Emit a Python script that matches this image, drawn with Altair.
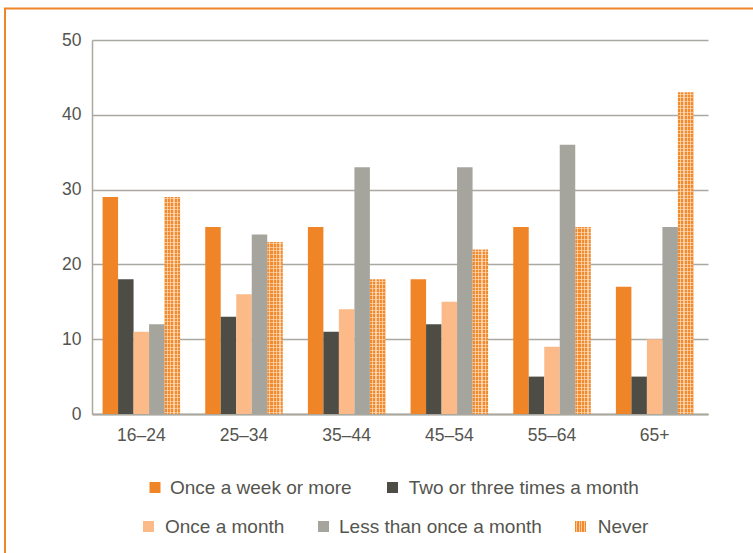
import altair as alt
import pandas as pd

ages = ["16–24", "25–34", "35–44", "45–54", "55–64", "65+"]
series = ["Once a week or more", "Two or three times a month", "Once a month",
          "Less than once a month", "Never"]
weekly = [29, 25, 25, 18, 25, 17]
two_three = [18, 13, 11, 12, 5, 5]
monthly = [11, 16, 14, 15, 9, 10]
less = [12, 24, 33, 33, 36, 25]
never = [29, 23, 18, 22, 25, 43]
colors = ["#F08528", "#4E4D45", "#FBBA87", "#A6A59D", "#F08528"]

values = [weekly, two_three, monthly, less, never]
rows = []
for s, vals in zip(series, values):
    for a, v in zip(ages, vals):
        rows.append({"age": a, "series": s, "value": v})
df = pd.DataFrame(rows)

W, H = 616, 374
TEXT = "#55554f"
GRID = "#aaa9a1"
FONT = "Liberation Sans"

# vertical stripe pattern for "Never"
vstops = [{"offset": 0, "color": "#F28A2E"}]
for c in [0.17, 0.39, 0.61, 0.83]:
    vstops += [{"offset": c - 0.04, "color": "#F28A2E"},
               {"offset": c - 0.04, "color": "#FAC89A"},
               {"offset": c + 0.04, "color": "#FAC89A"},
               {"offset": c + 0.04, "color": "#F28A2E"}]
vstops.append({"offset": 1, "color": "#F28A2E"})
vgrad = alt.Gradient(gradient="linear", stops=vstops, x1=0, x2=1, y1=0, y2=0)

xenc = alt.X("age:N", sort=ages, title=None,
             scale=alt.Scale(domain=ages, paddingInner=0.245, paddingOuter=0.1225,
                             align=0.42),
             axis=alt.Axis(labelAngle=0, ticks=False, domain=True, domainColor=GRID,
                           domainWidth=2, labelFont=FONT, labelFontSize=17.5,
                           labelColor=TEXT, labelPadding=12, grid=False))
yenc = alt.Y("value:Q", title=None,
             scale=alt.Scale(domain=[0, 50], nice=False),
             axis=alt.Axis(values=[0, 10, 20, 30, 40, 50], ticks=False, domain=True,
                           domainColor=GRID, domainWidth=1.5, grid=True, gridColor=GRID,
                           gridWidth=1.5, labelFont=FONT, labelFontSize=17.5,
                           labelColor=TEXT, labelPadding=11))
xoff = alt.XOffset("series:N", scale=alt.Scale(domain=series), sort=series)

solid = alt.Chart(df).transform_filter(alt.datum.series != "Never").mark_bar().encode(
    x=xenc, y=yenc, xOffset=xoff,
    color=alt.Color("series:N", scale=alt.Scale(domain=series[:4], range=colors[:4]),
                    legend=None))

never_base = alt.Chart(df).transform_filter(alt.datum.series == "Never").mark_bar(
    color=vgrad).encode(x=xenc, y=yenc, xOffset=xoff)

# horizontal dotted lines overlay per Never bar (spacing ~3.5px)
hlayers = []
px_per_unit = H / 50.0
for a, v in zip(ages, never):
    hpx = v * px_per_unit
    n = max(1, round(hpx / 3.6))
    d = 0.5 / hpx
    st = [{"offset": 0, "color": "rgba(255,255,255,0)"}]
    for i in range(n):
        c = (i + 0.5) / n
        st += [{"offset": max(0, c - d), "color": "rgba(255,255,255,0)"},
               {"offset": max(0, c - d), "color": "rgba(255,225,195,0.6)"},
               {"offset": min(1, c + d), "color": "rgba(255,225,195,0.6)"},
               {"offset": min(1, c + d), "color": "rgba(255,255,255,0)"}]
    st.append({"offset": 1, "color": "rgba(255,255,255,0)"})
    g = alt.Gradient(gradient="linear", stops=st, x1=0, x2=0, y1=0, y2=1)
    hlayers.append(
        alt.Chart(df).transform_filter(
            (alt.datum.series == "Never") & (alt.datum.age == a)
        ).mark_bar(color=g).encode(x=xenc, y=yenc, xOffset=xoff))

bars = alt.layer(solid, never_base, *hlayers)

# legend (layout positions, in pixels relative to the plot area)
leg = pd.DataFrame({
    "label": series,
    "color": colors,
    "sx": [63, 300.5, 56.5, 231.5, 488.5],
    "sy": [447.5, 447.5, 486.5, 486.5, 486.5],
    "tx": [78, 316.7, 73, 247, 505.7],
})
leg_sq = alt.Chart(leg).transform_filter(alt.datum.label != "Never").mark_square(
    size=121, opacity=1).encode(
    x=alt.X("sx:Q", scale=None, axis=None),
    y=alt.Y("sy:Q", scale=None, axis=None),
    color=alt.Color("color:N", scale=None, legend=None))
leg_never = alt.Chart(leg).transform_filter(alt.datum.label == "Never").mark_square(
    size=121, opacity=1, color=vgrad).encode(
    x=alt.X("sx:Q", scale=None, axis=None),
    y=alt.Y("sy:Q", scale=None, axis=None))
leg_txt = alt.Chart(leg).mark_text(align="left", baseline="middle", font=FONT,
                                   fontSize=19, color=TEXT).encode(
    x=alt.X("tx:Q", scale=None, axis=None),
    y=alt.Y("sy:Q", scale=None, axis=None),
    text="label:N")
legend = alt.layer(leg_sq, leg_never, leg_txt)

# orange frame
border_left = alt.Chart(pd.DataFrame({"k": [0]})).mark_rule(
    color="#F08528", strokeWidth=2).encode(
    x=alt.value(-87), y=alt.value(-31.5), y2=alt.value(520))
border_top = alt.Chart(pd.DataFrame({"k": [0]})).mark_rule(
    color="#F08528", strokeWidth=2).encode(
    x=alt.value(-88), x2=alt.value(670), y=alt.value(-31.5))

chart = alt.layer(
    bars, legend, border_left, border_top
).resolve_scale(x="independent", y="independent").properties(
    width=W, height=H,
    padding={"left": 92, "top": 40, "right": 45, "bottom": 139},
    autosize=alt.AutoSizeParams(type="none"),
).configure_view(stroke=None)

chart.save("out.html", embed_options={"renderer": "svg", "actions": False})
